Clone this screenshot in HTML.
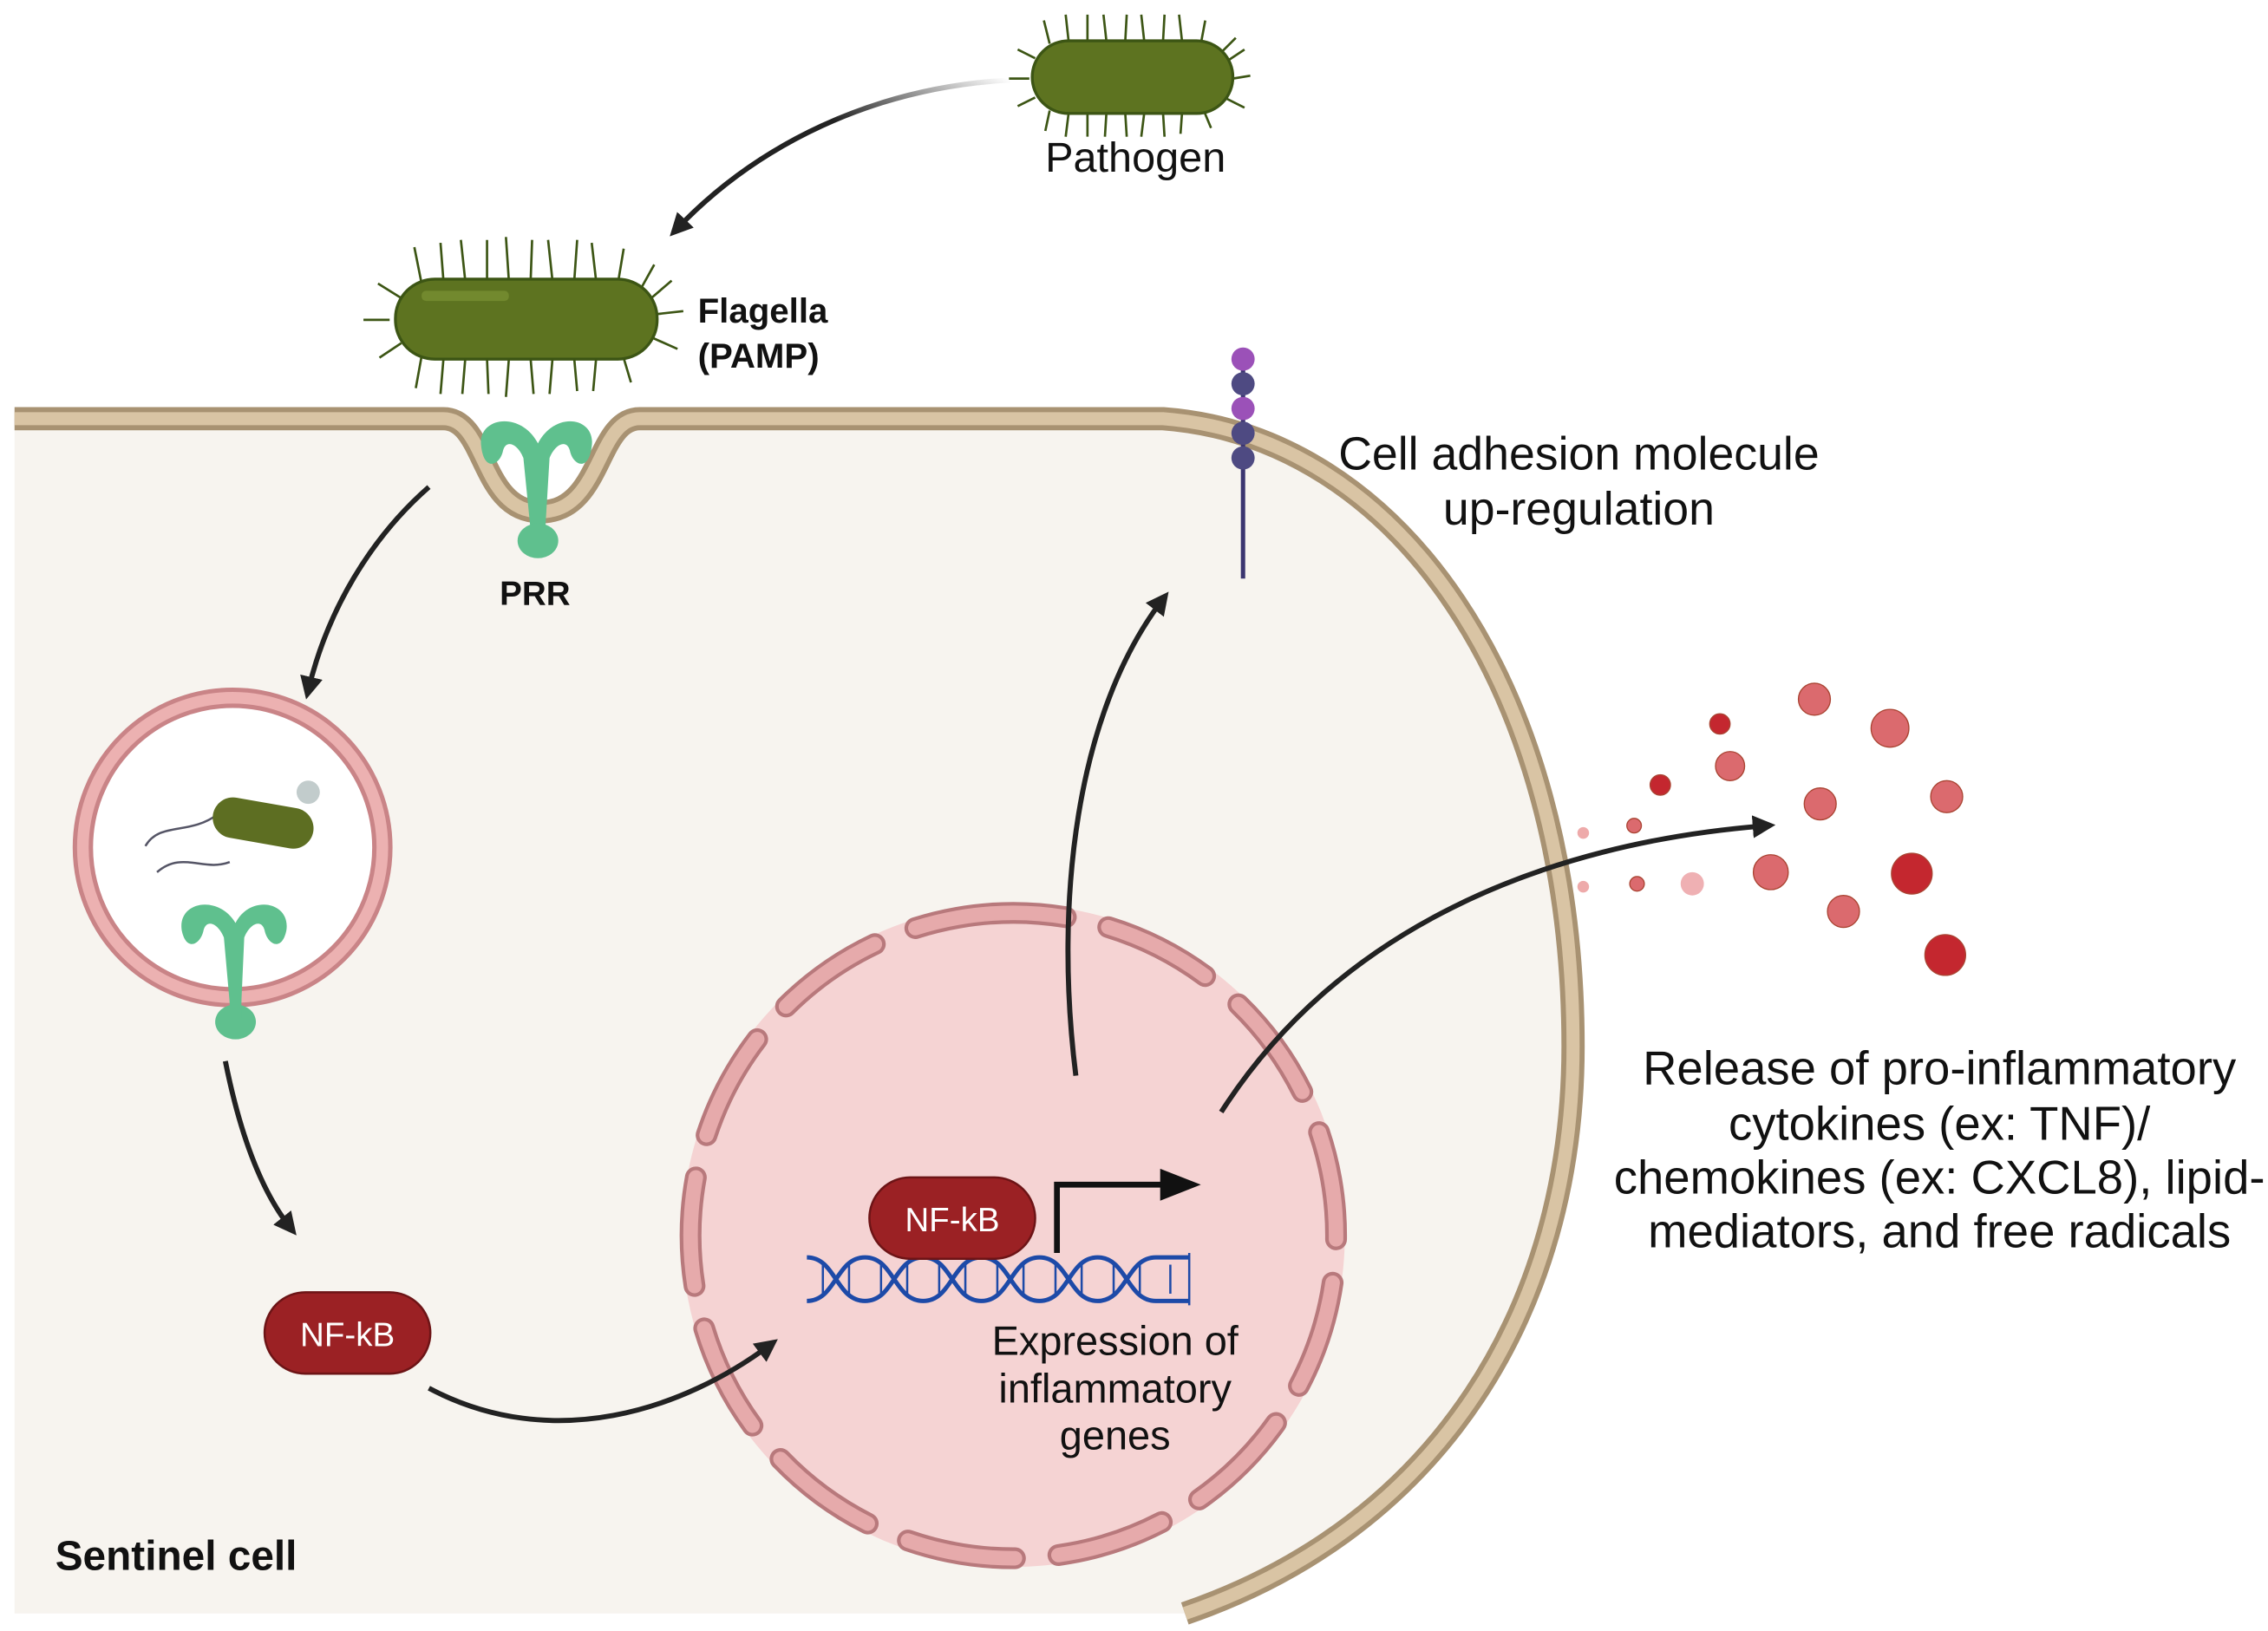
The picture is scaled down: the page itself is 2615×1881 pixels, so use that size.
<!DOCTYPE html>
<html><head><meta charset="utf-8"><style>
html,body{margin:0;padding:0;background:#fff}
svg{display:block}
text{font-family:"Liberation Sans",sans-serif}
</style></head><body>
<svg width="2615" height="1881" viewBox="0 0 1560 1122" xmlns="http://www.w3.org/2000/svg">
<defs>
<marker id="ah" viewBox="0 0 10 10" refX="6" refY="5" markerWidth="4.5" markerHeight="4.5" orient="auto-start-reverse"><path d="M0,0 L10,5 L0,10 z" fill="#222"/></marker>
<linearGradient id="g1" x1="1" y1="0" x2="0" y2="1"><stop offset="0" stop-color="#222" stop-opacity="0"/><stop offset="0.4" stop-color="#222"/></linearGradient>
</defs>
<path d="M10,288 L305,288 C335,288 330,352 372,352 C414,352 410,288 440,288 L800,288 C960,300 1082,470 1082,720 C1082,900 990,1050 815,1110 L10,1110 Z" fill="#f7f4ef"/>
<path d="M10,288 L305,288 C335,288 330,352 372,352 C414,352 410,288 440,288 L800,288 C960,300 1082,470 1082,720 C1082,900 990,1050 815,1110" fill="none" stroke="#a89272" stroke-width="16"/>
<path d="M10,288 L305,288 C335,288 330,352 372,352 C414,352 410,288 440,288 L800,288 C960,300 1082,470 1082,720 C1082,900 990,1050 815,1110" fill="none" stroke="#d9c4a4" stroke-width="9"/>
<circle cx="697" cy="850" r="228" fill="#f5d3d3"/>
<circle cx="697" cy="850" r="222" fill="none" stroke="#b8797c" stroke-width="15" stroke-dasharray="75 30" stroke-linecap="round" transform="rotate(-100 697 850)"/>
<circle cx="697" cy="850" r="222" fill="none" stroke="#e6aaab" stroke-width="10" stroke-dasharray="75 30" stroke-linecap="round" transform="rotate(-100 697 850)"/>
<circle cx="160" cy="583" r="103" fill="#fff" stroke="#c98487" stroke-width="14"/>
<circle cx="160" cy="583" r="103" fill="none" stroke="#ecb1b1" stroke-width="8"/>
<path d="M100,582 C110,565 130,575 150,560" fill="none" stroke="#556" stroke-width="1.5"/>
<path d="M108,600 C125,585 140,600 158,593" fill="none" stroke="#556" stroke-width="1.5"/>
<rect x="146" y="552" width="70" height="28" rx="14" fill="#5d6e22" transform="rotate(10 180 566)"/>
<circle cx="212" cy="545" r="8" fill="#9aa" opacity="0.6"/>
<g fill="#5fc08e">
<path d="M162,635 C150,615 122,620 125,640 C128,655 138,650 140,640 C142,632 150,635 154,645 L158,690 L166,690 L168,645 C172,635 180,632 182,640 C184,650 194,655 197,640 C200,620 172,615 162,635Z"/>
<ellipse cx="162" cy="703" rx="14" ry="12"/>
<rect x="158" y="680" width="8" height="20"/>
</g>
<g fill="#5fc08e">
<path d="M370,305 C358,282 328,287 331,307 C333,325 344,320 346,310 C348,302 356,305 360,315 L365,365 L375,365 L378,315 C382,305 390,302 392,310 C394,320 405,325 407,307 C410,287 382,282 370,305Z"/>
<ellipse cx="370" cy="372" rx="14" ry="12"/>
</g>
<g stroke="#3c5514" stroke-width="1.6" fill="none">
<path d="M290,195 l-5,-25 M305,193 l-2,-26 M320,193 l-3,-28 M335,193 l0,-28 M350,193 l-2,-30 M365,193 l1,-28 M380,193 l-3,-28 M395,193 l2,-28 M410,193 l-3,-26 M425,195 l4,-24 M440,200 l10,-18 M276,205 l-16,-10 M268,220 l-18,0 M276,236 l-15,10 M290,245 l-4,22 M305,247 l-2,24 M320,247 l-2,24 M335,247 l1,24 M350,247 l-2,26 M365,247 l2,24 M380,247 l-2,24 M395,247 l2,22 M410,247 l-2,22 M428,243 l6,20 M448,232 l18,8 M452,216 l18,-2 M448,205 l14,-12"/>
<path d="M722,30 l-4,-16 M735,28 l-2,-18 M748,28 l0,-18 M761,28 l-2,-18 M774,28 l1,-18 M787,28 l-2,-18 M800,28 l1,-18 M813,28 l-2,-18 M826,30 l3,-16 M840,36 l10,-10 M712,40 l-12,-6 M708,54 l-14,0 M712,67 l-12,6 M722,76 l-3,14 M735,78 l-2,16 M748,78 l0,16 M761,78 l-1,16 M774,78 l1,16 M787,78 l-2,16 M800,78 l1,16 M813,78 l-1,14 M828,76 l5,12 M844,68 l12,6 M848,54 l12,-2 M844,42 l12,-8"/>
</g>
<rect x="272" y="192" width="180" height="55" rx="27" fill="#5d7320" stroke="#3c5514" stroke-width="2"/>
<rect x="290" y="200" width="60" height="7" rx="3" fill="#72892e"/>
<rect x="710" y="28" width="138" height="50" rx="25" fill="#5d7320" stroke="#3c5514" stroke-width="2"/>
<line x1="855" y1="250" x2="855" y2="398" stroke="#3b3570" stroke-width="3"/>
<circle cx="855" cy="247" r="8" fill="#9b51b8"/>
<circle cx="855" cy="264" r="8" fill="#4e4a82"/>
<circle cx="855" cy="281" r="8" fill="#9b51b8"/>
<circle cx="855" cy="298" r="8" fill="#4e4a82"/>
<circle cx="855" cy="315" r="8" fill="#4e4a82"/>
<g fill="none" stroke-width="3.5" marker-end="url(#ah)">
<path d="M695,55 C600,60 520,100 465,158" stroke="url(#g1)"/>
<path d="M295,335 C255,370 225,420 212,475" stroke="#222"/>
<path d="M155,730 C165,780 180,820 200,845" stroke="#222"/>
<path d="M295,955 C380,1000 470,970 530,925" stroke="#222"/>
<path d="M740,740 C725,620 740,490 800,412" stroke="#222"/>
<path d="M840,765 C920,640 1060,580 1215,568" stroke="#222"/>
</g>
<g stroke="#a43" stroke-width="0.8">
<circle cx="1248" cy="481" r="11" fill="#db6a6e"/>
<circle cx="1300" cy="501" r="13" fill="#db6a6e"/>
<circle cx="1183" cy="498" r="7" fill="#c4272f"/>
<circle cx="1190" cy="527" r="10" fill="#db6a6e"/>
<circle cx="1142" cy="540" r="7" fill="#c4272f"/>
<circle cx="1252" cy="553" r="11" fill="#db6a6e"/>
<circle cx="1339" cy="548" r="11" fill="#db6a6e"/>
<circle cx="1124" cy="568" r="5" fill="#db6a6e"/>
<circle cx="1089" cy="573" r="4" fill="#eeaaaa" stroke="none"/>
<circle cx="1218" cy="600" r="12" fill="#db6a6e"/>
<circle cx="1315" cy="601" r="14" fill="#c4272f"/>
<circle cx="1164" cy="608" r="8" fill="#efb0b3" stroke="none"/>
<circle cx="1126" cy="608" r="5" fill="#db6a6e"/>
<circle cx="1089" cy="610" r="4" fill="#eeaaaa" stroke="none"/>
<circle cx="1268" cy="627" r="11" fill="#db6a6e"/>
<circle cx="1338" cy="657" r="14" fill="#c4272f"/>
</g>
<g fill="none" stroke="#1d4aa8" stroke-width="3">
<path d="M555,865 C575,865 575,895 595,895 C615,895 615,865 635,865 C655,865 655,895 675,895 C695,895 695,865 715,865 C735,865 735,895 755,895 C775,895 775,865 795,865 L818,865"/>
<path d="M555,895 C575,895 575,865 595,865 C615,865 615,895 635,895 C655,895 655,865 675,865 C695,865 695,895 715,895 C735,895 735,865 755,865 C775,865 775,895 795,895 L818,895"/>
<path d="M566,870v20M584,870v20M606,870v20M624,870v20M646,870v20M664,870v20M686,870v20M704,870v20M726,870v20M744,870v20M766,870v20M784,870v20M805,870v20M818,862v36" stroke-width="1.5"/>
</g>
<path d="M727,862 V815 H800" fill="none" stroke="#111" stroke-width="4"/>
<path d="M798,804 L826,815 L798,826Z" fill="#111"/>
<rect x="598" y="810" width="114" height="56" rx="28" fill="#9b2124" stroke="#6d1416" stroke-width="1.5"/>
<text x="655" y="847" font-size="23" fill="#fff" text-anchor="middle">NF-kB</text>
<rect x="182" y="889" width="114" height="56" rx="28" fill="#9b2124" stroke="#6d1416" stroke-width="1.5"/>
<text x="239" y="926" font-size="23" fill="#fff" text-anchor="middle">NF-kB</text>
<g fill="#111">
<text x="781" y="118" font-size="29" text-anchor="middle">Pathogen</text>
<text x="480" y="222" font-size="24" font-weight="bold">Flagella</text>
<text x="480" y="253" font-size="24" font-weight="bold">(PAMP)</text>
<text x="368" y="416" font-size="23" font-weight="bold" text-anchor="middle">PRR</text>
<text x="1086" y="323" font-size="32" text-anchor="middle">Cell adhesion molecule</text>
<text x="1086" y="361" font-size="32" text-anchor="middle">up-regulation</text>
<text x="767" y="932" font-size="28" text-anchor="middle">Expression of</text>
<text x="767" y="965" font-size="28" text-anchor="middle">inflammatory</text>
<text x="767" y="997" font-size="28" text-anchor="middle">genes</text>
<text x="1334" y="746" font-size="32.5" text-anchor="middle">Release of pro-inflammatory</text>
<text x="1334" y="784" font-size="32.5" text-anchor="middle">cytokines (ex: TNF)/</text>
<text x="1334" y="821" font-size="32.5" text-anchor="middle">chemokines (ex: CXCL8), lipid-</text>
<text x="1334" y="858" font-size="32.5" text-anchor="middle">mediators, and free radicals</text>
<text x="38" y="1080" font-size="28.5" font-weight="bold">Sentinel cell</text>
</g>
</svg>
</body></html>
